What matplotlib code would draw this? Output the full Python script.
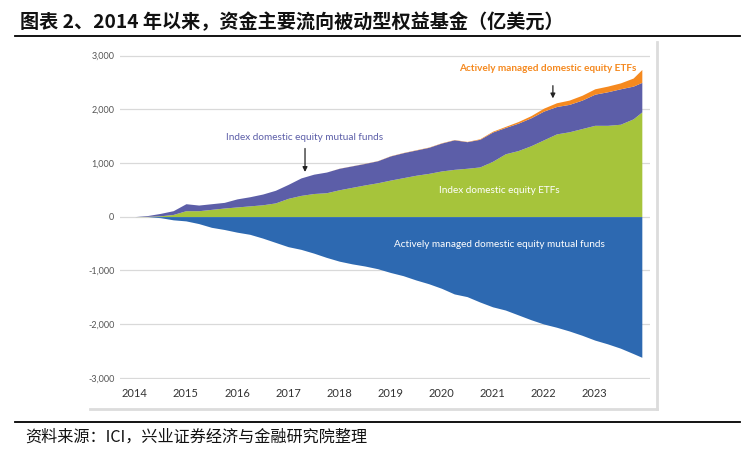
import numpy as np
import matplotlib.pyplot as plt
from matplotlib.lines import Line2D

# quarterly readings of cumulative flows (billions USD)
dates = [2014.0, 2014.25, 2014.5, 2014.75, 2015.0, 2015.25, 2015.5, 2015.75,
         2016.0, 2016.25, 2016.5, 2016.75, 2017.0, 2017.25, 2017.5, 2017.75,
         2018.0, 2018.25, 2018.5, 2018.75, 2019.0, 2019.25, 2019.5, 2019.75,
         2020.0, 2020.25, 2020.5, 2020.75, 2021.0, 2021.25, 2021.5, 2021.75,
         2022.0, 2022.25, 2022.5, 2022.75, 2023.0, 2023.25, 2023.5, 2023.75, 2023.92]

index_etf = [0, 5, 15, 40, 110, 110, 135, 160,
             180, 200, 220, 255, 340, 395, 430, 445,
             500, 545, 590, 630, 680, 725, 770, 805,
             850, 880, 900, 925, 1030, 1170, 1230, 1320,
             1430, 1540, 1580, 1640, 1700, 1700, 1720, 1820, 1950]

index_mf = [0, 15, 45, 70, 130, 105, 105, 105,
            150, 170, 200, 235, 260, 325, 360, 385,
            400, 400, 400, 410, 450, 465, 470, 485,
            520, 550, 495, 515, 545, 490, 510, 520,
            535, 510, 510, 530, 580, 625, 660, 610, 550]

active_etf = [0, 0, 0, 0, 0, 0, 0, 0,
              0, 0, 0, 0, 0, 0, 0, 0,
              2, 2, 3, 3, 4, 4, 5, 5,
              5, 5, 5, 10, 15, 20, 30, 40,
              55, 70, 80, 90, 100, 105, 110, 150, 240]

active_mf = [0, 0, -20, -60, -80, -130, -200, -240,
             -290, -330, -400, -480, -560, -610, -680, -760,
             -830, -880, -920, -970, -1040, -1100, -1180, -1250,
             -1335, -1440, -1490, -1590, -1680, -1740, -1830, -1920,
             -2000, -2060, -2130, -2210, -2300, -2370, -2450, -2550, -2620]

years = list(range(2014, 2024))
yticks = [-3000, -2000, -1000, 0, 1000, 2000, 3000]

c_green = '#a6c43b'
c_purple = '#5c5ea8'
c_orange = '#f5891f'
c_blue = '#2d69b1'

cjk = ['Noto Sans CJK SC', 'DejaVu Sans']

fig = plt.figure(figsize=(7.54, 4.5), dpi=100)
W, H = 754, 450

# title and rules
fig.text(20 / W, 1 - 22 / H, '图表 2、2014 年以来，资金主要流向被动型权益基金（亿美元）',
         family=cjk, fontsize=13.8, fontweight='bold', va='center', ha='left', color='#111111')
fig.add_artist(Line2D([15 / W, 740 / W], [1 - 36 / H, 1 - 36 / H], color='black', lw=1.3))
fig.add_artist(Line2D([15 / W, 740 / W], [1 - 422 / H, 1 - 422 / H], color='black', lw=1.3))
fig.text(25 / W, 1 - 437 / H, '资料来源：ICI，兴业证券经济与金融研究院整理',
         family=cjk, fontsize=11.6, va='center', ha='left', color='#111111')

# card edges (light shadow on right and bottom)
fig.add_artist(Line2D([657 / W, 657 / W], [1 - 42 / H, 1 - 409 / H], color='#dcdcdc', lw=2))
fig.add_artist(Line2D([90 / W, 657 / W], [1 - 409 / H, 1 - 409 / H], color='#dcdcdc', lw=2))

# axes placement
x0, x1 = 2013.71, 2024.08
y0, y1 = -3030, 3030
ax = fig.add_axes([120 / W, 1 - 379.3 / H, (650 - 120) / W, (379.3 - 53.9) / H])
ax.set_xlim(x0, x1)
ax.set_ylim(y0, y1)

x = np.array(dates)
g = np.array(index_etf)
p = g + np.array(index_mf)
o = p + np.array(active_etf)
ax.fill_between(x, 0, g, color=c_green, lw=0, zorder=2)
ax.fill_between(x, g, p, color=c_purple, lw=0, zorder=2)
ax.fill_between(x, p, o, color=c_orange, lw=0, zorder=2)
ax.fill_between(x, active_mf, 0, color=c_blue, lw=0, zorder=2)

ax.set_yticks(yticks)
ax.set_yticklabels([f'{v:,}' for v in yticks])
ax.set_xticks(years)
ax.set_xticklabels([str(y) for y in years])
ax.grid(axis='y', color='#d9d9d9', lw=0.9, zorder=1)
ax.tick_params(axis='y', length=0, pad=4, labelsize=6.5, labelcolor='#555555')
ax.tick_params(axis='x', length=0, pad=6, labelsize=8, labelcolor='#333333')
for lab in ax.get_xticklabels() + ax.get_yticklabels():
    lab.set_family('Lato')
for s in ax.spines.values():
    s.set_visible(False)

# annotations
ax.text(2017.33, 1466, 'Index domestic equity mutual funds', color=c_purple,
        ha='center', va='center', fontsize=7.2, family='Lato', zorder=5)
ax.annotate('', xy=(2017.33, 780), xytext=(2017.33, 1320),
            arrowprops=dict(arrowstyle='-|>', color='#222222', lw=0.9, mutation_scale=7), zorder=5)
ax.text(2022.08, 2750, 'Actively managed domestic equity ETFs', color=c_orange,
        ha='center', va='center', fontsize=7.2, family='Lato', fontweight='bold', zorder=5)
ax.annotate('', xy=(2022.18, 2150), xytext=(2022.18, 2490),
            arrowprops=dict(arrowstyle='-|>', color='#222222', lw=0.9, mutation_scale=7), zorder=5)
ax.text(2021.14, 490, 'Index domestic equity ETFs', color='white',
        ha='center', va='center', fontsize=7.2, family='Lato', zorder=5)
ax.text(2021.14, -520, 'Actively managed domestic equity mutual funds', color='white',
        ha='center', va='center', fontsize=7.2, family='Lato', zorder=5)

fig.savefig('out.png', dpi=100)
